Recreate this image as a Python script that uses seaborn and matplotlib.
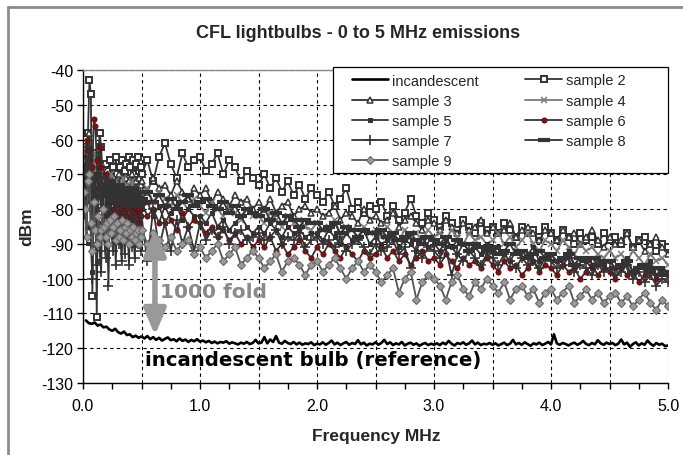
import numpy as np
import pandas as pd
import matplotlib
matplotlib.use("Agg")
import matplotlib.pyplot as plt
import matplotlib.patches as mpatches
import seaborn as sns
from matplotlib.ticker import MultipleLocator, FuncFormatter

sns.set_theme(style="white")
plt.rcParams['font.family'] = ['Liberation Sans', 'DejaVu Sans']

# ---------------- data ----------------
freq_low = np.round(0.005 + 0.0125 * np.arange(40), 4)   # 40 points, 0.005 .. 0.4925 MHz
freq_high = np.round(np.arange(0.5, 5.0001, 0.05), 3)    # 91 points, 0.50 .. 5.00 MHz
freq = np.concatenate([freq_low, freq_high])
freq_inc = np.round(np.arange(0.025, 5.0001, 0.025), 3)  # 200 points

incandescent = [
    -112.0, -112.8, -113.0, -112.6, -113.5, -113.2, -114.0, -113.8, -114.6, -115.0, -114.4, -115.4, -115.8, -115.2, -116.2, -116.0, -116.8, -116.4, -117.0, -116.6,
    -117.2, -116.5, -117.4, -116.8, -117.6, -117.0, -117.8, -117.3, -116.9, -117.7, -117.4, -118.0, -117.2, -117.9, -117.5, -118.2, -117.6, -118.0, -117.4, -118.1,
    -117.8, -118.3, -117.9, -118.5, -118.1, -118.6, -118.2, -118.4, -118.0, -118.7, -118.3, -118.6, -118.9, -118.4, -118.7, -118.2, -118.8, -118.5, -117.6, -118.6,
    -118.4, -116.8, -118.6, -117.5, -118.2, -116.5, -118.4, -118.7, -117.9, -118.5, -118.8, -118.2, -118.9, -118.4, -119.0, -118.6, -118.8, -118.3, -119.1, -118.7,
    -118.9, -118.3, -119.0, -118.5, -117.8, -118.9, -118.4, -119.1, -118.6, -118.2, -119.0, -118.5, -118.8, -117.7, -118.9, -118.4, -119.2, -118.7, -118.9, -118.3,
    -119.0, -118.5, -117.6, -118.8, -118.3, -119.1, -118.6, -118.9, -118.2, -119.2, -118.7, -118.4, -119.0, -118.6, -119.3, -118.8, -118.5, -119.1, -118.7, -119.0,
    -118.6, -119.1, -118.4, -118.9, -117.9, -118.7, -119.2, -118.5, -118.8, -118.3, -119.0, -118.6, -117.8, -118.9, -118.4, -119.1, -118.7, -118.9, -118.5, -119.0,
    -118.6, -119.2, -118.8, -118.4, -119.1, -118.7, -117.6, -118.9, -118.5, -119.0, -118.3, -118.8, -119.3, -118.6, -118.9, -118.4, -119.1, -118.7, -118.2, -118.9,
    -116.0, -118.6, -119.0, -118.5, -118.8, -119.2, -118.7, -118.4, -119.0, -118.6, -117.9, -118.8, -119.1, -118.5, -118.9, -117.7, -118.6, -119.0, -118.4, -118.8,
    -118.5, -119.1, -118.7, -117.5, -118.9, -118.4, -119.6, -118.8, -118.3, -119.2, -118.6, -119.0, -117.8, -118.7, -119.3, -118.5, -119.0, -118.7, -119.4, -119.2,
]

sample2 = [
    -63, -62, -66, -58, -43, -47, -105, -70, -64, -111, -66, -58, -62, -70, -74, -67, -69, -72, -66, -73,
    -68, -71, -65, -70, -74, -68, -66, -72, -69, -67, -71, -65, -68, -72, -66, -70, -67, -65, -69, -68,
    -70, -66, -72, -65, -61, -67, -71, -64, -68, -66,
    -65, -69, -67, -64, -70, -66, -68, -72, -69, -71,
    -73, -70, -74, -71, -75, -72, -76, -73, -77, -74,
    -76, -78, -75, -79, -77, -74, -80, -78, -81, -79,
    -80, -78, -82, -79, -83, -81, -77, -82, -84, -81,
    -83, -85, -82, -84, -86, -83, -85, -87, -84, -86,
    -85, -87, -84, -86, -88, -85, -87, -86, -88, -85,
    -87, -89, -86, -88, -90, -87, -89, -88, -90, -87,
    -89, -88, -90, -87, -91, -89, -88, -90, -92, -90,
    -91,
]
sample3 = [
    -64, -66, -70, -62, -58, -72, -85, -68, -74, -90, -66, -70, -72, -68, -75, -71, -73, -70, -74, -72,
    -76, -71, -73, -75, -70, -74, -72, -76, -73, -71, -75, -72, -74, -70, -73, -75, -72, -74, -71, -73,
    -72, -75, -71, -74, -73, -76, -72, -75, -77, -74,
    -76, -74, -78, -75, -77, -79, -76, -78, -77, -80,
    -78, -80, -77, -81, -79, -78, -82, -80, -79, -81,
    -80, -82, -81, -79, -83, -81, -82, -84, -80, -83,
    -82, -84, -83, -81, -85, -83, -82, -84, -86, -83,
    -84, -86, -83, -85, -87, -84, -86, -85, -83, -87,
    -85, -87, -86, -84, -88, -86, -85, -87, -89, -86,
    -87, -89, -86, -88, -87, -90, -88, -86, -89, -91,
    -88, -90, -89, -87, -91, -89, -92, -90, -88, -91,
    -93,
]
sample4 = [
    -66, -64, -62, -68, -72, -70, -80, -66, -64, -78, -72, -70, -68, -74, -71, -76, -73, -72, -75, -70,
    -74, -77, -72, -75, -73, -76, -74, -71, -77, -74, -73, -76, -75, -72, -78, -75, -74, -77, -76, -75,
    -76, -74, -78, -75, -77, -79, -76, -78, -80, -77,
    -79, -81, -78, -80, -82, -79, -81, -83, -80, -82,
    -82, -84, -81, -83, -85, -82, -84, -83, -85, -86,
    -84, -86, -85, -83, -87, -85, -86, -88, -85, -87,
    -86, -88, -85, -87, -89, -86, -88, -87, -89, -86,
    -88, -87, -89, -86, -88, -90, -87, -89, -88, -90,
    -89, -87, -90, -88, -91, -89, -87, -90, -92, -89,
    -90, -92, -89, -91, -93, -90, -92, -91, -93, -94,
    -92, -94, -93, -95, -92, -94, -96, -93, -95, -94,
    -96,
]
sample5 = [
    -70, -68, -85, -72, -65, -80, -98, -74, -82, -95, -68, -76, -80, -74, -86, -76, -73, -84, -82, -78,
    -88, -75, -80, -83, -79, -85, -77, -81, -84, -78, -82, -86, -79, -83, -80, -85, -78, -82, -84, -80,
    -80, -78, -82, -79, -84, -81, -79, -83, -80, -82,
    -82, -84, -81, -85, -83, -86, -84, -82, -85, -87,
    -85, -87, -84, -86, -88, -85, -87, -86, -88, -87,
    -87, -89, -86, -88, -90, -87, -89, -88, -86, -90,
    -88, -90, -89, -87, -91, -89, -90, -92, -88, -91,
    -90, -92, -89, -91, -93, -90, -92, -91, -93, -90,
    -92, -91, -93, -95, -92, -94, -93, -91, -95, -94,
    -93, -95, -94, -92, -96, -94, -95, -97, -94, -96,
    -95, -97, -96, -94, -98, -96, -97, -95, -99, -97,
    -98,
]
sample6 = [
    -82, -72, -60, -63, -66, -85, -68, -54, -56, -66, -74, -62, -68, -82, -73, -70, -86, -75, -78, -72,
    -74, -80, -83, -77, -81, -76, -79, -84, -78, -82, -80, -77, -83, -79, -85, -81, -78, -84, -80, -82,
    -78, -82, -80, -84, -79, -83, -86, -81, -85, -83,
    -84, -87, -85, -88, -86, -89, -87, -90, -88, -91,
    -89, -91, -88, -92, -90, -93, -91, -89, -92, -94,
    -91, -93, -90, -92, -94, -91, -93, -95, -92, -94,
    -93, -91, -94, -92, -95, -93, -96, -94, -92, -95,
    -94, -96, -93, -95, -97, -94, -96, -95, -97, -94,
    -96, -98, -95, -97, -96, -99, -97, -95, -98, -96,
    -97, -99, -96, -98, -97, -100, -98, -96, -99, -97,
    -98, -100, -97, -99, -98, -101, -99, -97, -100, -98,
    -99,
]
sample7 = [
    -68, -75, -88, -70, -62, -90, -100, -72, -85, -96, -80, -92, -98, -76, -88, -94, -82, -102, -78, -86,
    -92, -84, -96, -80, -90, -86, -95, -82, -93, -88, -84, -96, -81, -91, -87, -94, -83, -90, -86, -92,
    -82, -95, -80, -91, -84, -92, -83, -90, -85, -92,
    -84, -89, -86, -88, -85, -90, -87, -86, -89, -88,
    -87, -89, -88, -86, -90, -88, -89, -87, -91, -89,
    -88, -90, -89, -91, -88, -92, -90, -89, -91, -93,
    -90, -92, -91, -89, -93, -91, -97, -92, -94, -91,
    -92, -94, -91, -99, -93, -95, -92, -94, -96, -93,
    -94, -96, -93, -95, -97, -94, -96, -95, -97, -94,
    -95, -97, -96, -94, -98, -96, -97, -99, -96, -98,
    -97, -99, -98, -96, -100, -98, -101, -99, -102, -100,
    -101,
]
sample8 = [
    -72, -68, -65, -74, -78, -70, -90, -72, -70, -84, -74, -76, -71, -73, -76, -74, -73, -75, -72, -77,
    -74, -76, -75, -78, -73, -76, -75, -77, -74, -79, -76, -75, -78, -77, -74, -79, -76, -78, -75, -77,
    -77, -75, -78, -76, -79, -77, -80, -78, -76, -79,
    -78, -77, -79, -80, -78, -81, -79, -82, -80, -81,
    -82, -80, -83, -81, -84, -82, -83, -85, -83, -84,
    -84, -86, -85, -84, -87, -85, -86, -88, -86, -87,
    -87, -86, -88, -87, -89, -88, -87, -89, -90, -88,
    -89, -90, -88, -91, -89, -90, -92, -90, -91, -92,
    -91, -93, -92, -90, -93, -92, -94, -93, -92, -94,
    -93, -95, -94, -93, -96, -94, -95, -94, -96, -95,
    -95, -97, -96, -95, -98, -97, -96, -98, -97, -99,
    -98,
]
sample9 = [
    -75, -80, -88, -72, -70, -84, -92, -78, -86, -90, -82, -88, -86, -80, -85, -88, -84, -90, -83, -87,
    -85, -82, -89, -84, -88, -86, -83, -89, -85, -87, -84, -90, -86, -88, -85, -89, -87, -86, -90, -88,
    -86, -90, -87, -89, -91, -88, -92, -90, -89, -93,
    -91, -94, -92, -90, -95, -93, -91, -96, -94, -92,
    -94, -97, -95, -93, -98, -95, -94, -96, -99, -96,
    -95, -98, -96, -94, -97, -100, -97, -95, -98, -96,
    -98, -101, -99, -97, -104, -100, -98, -106, -101, -99,
    -100, -102, -106, -101, -99, -103, -105, -101, -103, -100,
    -102, -104, -101, -106, -103, -102, -105, -103, -107, -104,
    -103, -106, -104, -102, -107, -105, -103, -106, -104, -107,
    -105, -104, -107, -105, -108, -106, -104, -107, -109, -106,
    -108,
]

series_names = ["sample 2", "sample 3", "sample 4", "sample 5",
                "sample 6", "sample 7", "sample 8", "sample 9"]
series_values = [sample2, sample3, sample4, sample5,
                 sample6, sample7, sample8, sample9]

# ---------------- styles ----------------
DK = "#333333"
styles = {
    "sample 2": dict(color=DK, marker="s", markersize=5, markerfacecolor="white", markeredgecolor=DK, markeredgewidth=1.4),
    "sample 3": dict(color=DK, marker="^", markersize=5, markerfacecolor="white", markeredgecolor=DK, markeredgewidth=1.1),
    "sample 4": dict(color="#7a7a7a", marker="x", markersize=5, markeredgecolor="#7a7a7a", markeredgewidth=1.1),
    "sample 5": dict(color=DK, marker="s", markersize=3.5, markerfacecolor=DK, markeredgecolor=DK),
    "sample 6": dict(color=DK, marker="o", markersize=3.8, markerfacecolor="#8b0a0a", markeredgecolor="#4a1010", markeredgewidth=0.5),
    "sample 7": dict(color=DK, marker="+", markersize=7, markeredgecolor=DK, markeredgewidth=1.2),
    "sample 8": dict(color=DK, marker="_", markersize=8, markeredgecolor=DK, markeredgewidth=3),
    "sample 9": dict(color="#555555", marker="D", markersize=4.5, markerfacecolor="#9a9a9a", markeredgecolor="#6a6a6a", markeredgewidth=0.8),
}

# ---------------- figure ----------------
fig = plt.figure(figsize=(6.83, 4.56), dpi=100)
fig.patch.set_facecolor("white")
ax = fig.add_axes([83 / 683, 1 - 384 / 456, (668 - 83) / 683, (384 - 71) / 456])
ax.set_facecolor("white")

df_inc = pd.DataFrame({"freq": freq_inc, "dBm": incandescent})
sns.lineplot(data=df_inc, x="freq", y="dBm", ax=ax, estimator=None, sort=False,
             color="black", linewidth=1.9, label="incandescent", zorder=3)

for name, vals in zip(series_names, series_values):
    d = pd.DataFrame({"freq": freq, "dBm": vals})
    sns.lineplot(data=d, x="freq", y="dBm", ax=ax, estimator=None, sort=False,
                 linewidth=1.3, label=name, zorder=2, **styles[name])

ax.set_xlim(0, 5)
ax.set_ylim(-130, -40)
ax.xaxis.set_major_locator(MultipleLocator(0.5))
ax.xaxis.set_minor_locator(MultipleLocator(0.25))
ax.xaxis.set_major_formatter(FuncFormatter(lambda v, p: f"{v:.1f}" if abs(v - round(v)) < 1e-6 else ""))
ax.yaxis.set_major_locator(MultipleLocator(10))
ax.yaxis.set_major_formatter(FuncFormatter(lambda v, p: f"{v:.0f}"))
ax.grid(True, which="major", axis="both", color="black", linestyle=(0, (3, 3)), linewidth=0.8)
ax.set_axisbelow(True)
ax.tick_params(which="both", bottom=True, left=True, direction="out", length=4, width=1,
               color="black", labelcolor="black", labelsize=11.5)
ax.tick_params(axis="x", which="both", pad=7)
ax.tick_params(axis="y", which="both", pad=3)
ax.set_xlabel("")
ax.set_ylabel("")
for s in ["left", "bottom"]:
    ax.spines[s].set_color("black")
    ax.spines[s].set_linewidth(1.0)
ax.spines["top"].set_color("#888888")
ax.spines["top"].set_linewidth(1.0)
ax.spines["right"].set_visible(False)

# legend: frame drawn as a separate box, entries placed inside it
handles, labels = ax.get_legend_handles_labels()
if ax.get_legend() is not None:
    ax.get_legend().remove()
order = ["incandescent", "sample 3", "sample 5", "sample 7", "sample 9",
         "sample 2", "sample 4", "sample 6", "sample 8"]
hmap = dict(zip(labels, handles))
box = mpatches.Rectangle((333 / 683, 1 - 174 / 456), (668 - 333) / 683, (174 - 68) / 456,
                         transform=fig.transFigure, facecolor="white", edgecolor="black",
                         linewidth=0.9, zorder=8)
fig.add_artist(box)
leg = fig.legend([hmap[k] for k in order], order, ncol=2, loc="upper left",
                 bbox_to_anchor=(352 / 683, 1 - 74.5 / 456), bbox_transform=fig.transFigure,
                 borderaxespad=0, borderpad=0, fontsize=10.5, handlelength=2.5,
                 handletextpad=0.25, columnspacing=3.2, labelspacing=0.42, frameon=False)
leg.set_zorder(10)

# annotations
ax.annotate("", xy=(0.615, -85.8), xytext=(0.615, -116.3),
            arrowprops=dict(arrowstyle="<|-|>,head_length=1.3,head_width=0.55",
                            color="#999999", lw=4, shrinkA=0, shrinkB=0), zorder=6)
ax.text(0.655, -103.8, "1000 fold", color="#8a8a8a", fontsize=14.5, fontweight="bold",
        family=["DejaVu Sans"], ha="left", va="center", zorder=6)
ax.text(0.53, -123.1, "incandescent bulb (reference)", color="black", fontsize=14.2,
        fontweight="bold", family=["DejaVu Sans"], ha="left", va="center", zorder=6)

# titles / labels
fig.text(358 / 683, 1 - 34 / 456, "CFL lightbulbs - 0 to 5 MHz emissions",
         ha="center", va="center", fontsize=13, fontweight="bold")
fig.text(376 / 683, 1 - 437 / 456, "Frequency MHz", ha="center", va="center",
         fontsize=12.5, fontweight="bold")
fig.text(27 / 683, 1 - 227 / 456, "dBm", ha="center", va="center", rotation=90,
         fontsize=12.5, fontweight="bold")

# chart-area border (left and top)
fig.add_artist(plt.Line2D([8 / 683, 8 / 683], [0, 1 - 8 / 456], transform=fig.transFigure,
                          color="#8c8c8c", lw=2))
fig.add_artist(plt.Line2D([8 / 683, 1], [1 - 8 / 456, 1 - 8 / 456], transform=fig.transFigure,
                          color="#8c8c8c", lw=2))

fig.savefig("out.png", dpi=100, facecolor="white")
